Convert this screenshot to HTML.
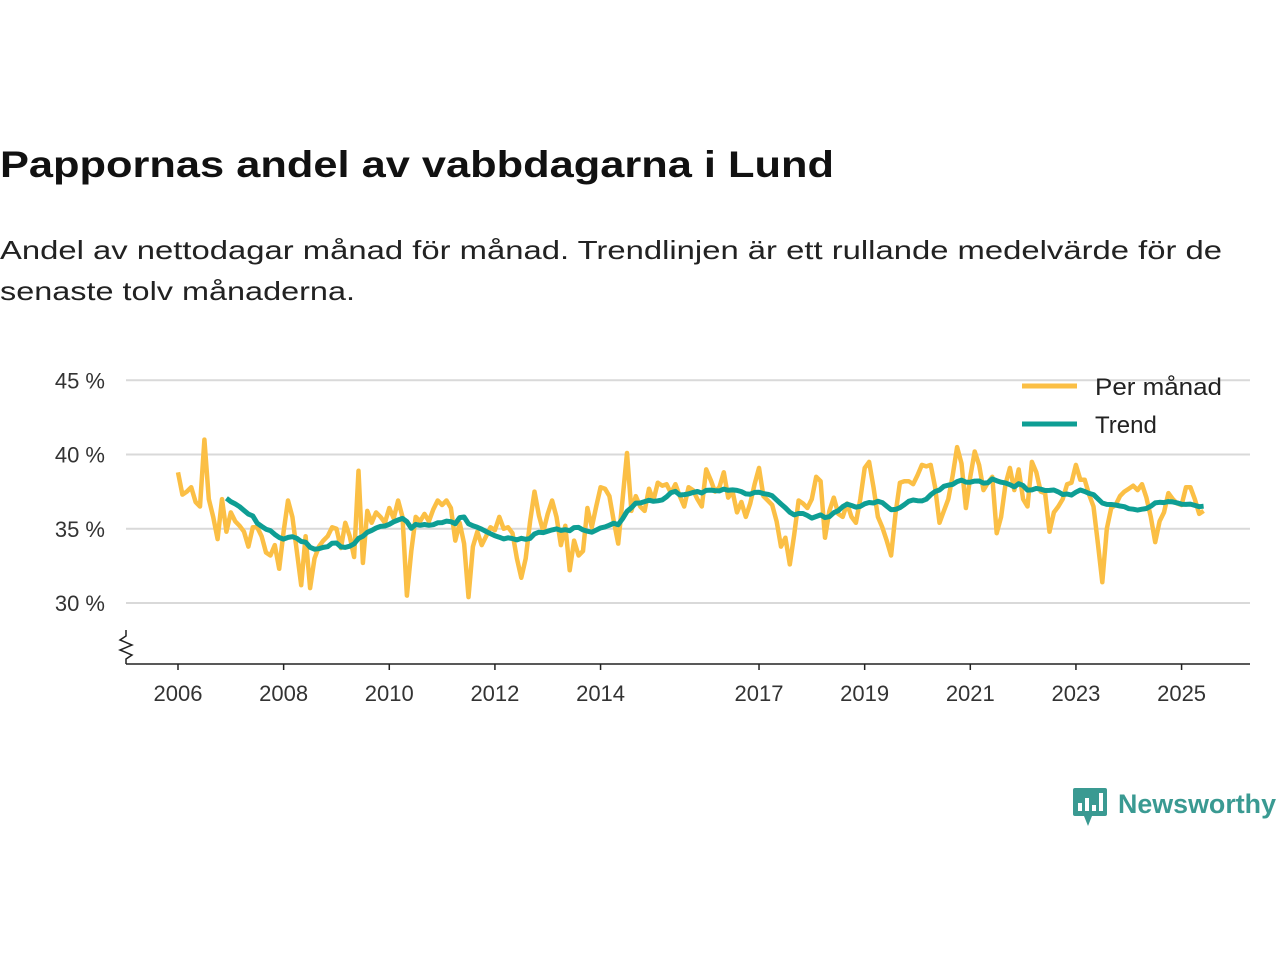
<!DOCTYPE html>
<html><head><meta charset="utf-8"><style>
body{margin:0;background:#fff;}
svg{display:block;font-family:"Liberation Sans",sans-serif;}
</style></head><body>
<svg id="chart" width="1280" height="960" viewBox="0 0 1280 960">
<text x="0" y="177" font-size="37" font-weight="bold" fill="#111" textLength="834" lengthAdjust="spacingAndGlyphs">Pappornas andel av vabbdagarna i Lund</text>
<text x="0" y="259" font-size="26" fill="#222" textLength="1222" lengthAdjust="spacingAndGlyphs">Andel av nettodagar månad för månad. Trendlinjen är ett rullande medelvärde för de</text>
<text x="0" y="300" font-size="26" fill="#222" textLength="355" lengthAdjust="spacingAndGlyphs">senaste tolv månaderna.</text>
<g id="grid"></g>
<g id="marks"></g>
<g>
<line x1="1022" y1="386" x2="1077" y2="386" stroke="#fbbf45" stroke-width="5"/>
<text x="1095" y="395" font-size="24" fill="#222" textLength="127" lengthAdjust="spacingAndGlyphs">Per månad</text>
<line x1="1022" y1="424" x2="1077" y2="424" stroke="#0e9e94" stroke-width="5"/>
<text x="1095" y="433" font-size="24" fill="#222">Trend</text>
</g>
<g>
<rect x="1073" y="788" width="34" height="28" rx="2" fill="#3a9a92"/>
<polygon points="1084,816 1092,816 1088,826" fill="#3a9a92"/>
<rect x="1078" y="803" width="4" height="8" fill="#fff"/><rect x="1085" y="798" width="4" height="13" fill="#fff"/><rect x="1092" y="805" width="4" height="6" fill="#fff"/><rect x="1099" y="793" width="4" height="18" fill="#fff"/>
<text x="1118" y="813" font-size="27" font-weight="bold" fill="#3a9a92" textLength="158" lengthAdjust="spacingAndGlyphs">Newsworthy</text>
</g>
</svg>
<script>
const startYear = 2006;
const monthly = [
38.8,37.3,37.5,37.8,36.8,36.5,41.0,37.0,35.8,34.3,37.0,34.8,
36.1,35.5,35.2,34.8,33.8,35.1,35.1,34.5,33.4,33.2,33.9,32.3,
34.8,36.9,35.8,33.5,31.2,34.5,31.0,33.0,33.8,34.2,34.5,35.1,
35.0,33.7,35.4,34.5,33.1,38.9,32.7,36.2,35.4,36.1,35.8,35.4,
36.4,35.7,36.9,35.8,30.5,33.5,35.8,35.5,36.0,35.5,36.3,36.9,
36.6,36.9,36.4,34.2,35.4,34.0,30.4,33.8,34.8,33.9,34.5,35.1,
34.9,35.8,35.0,35.1,34.7,33.0,31.7,33.0,35.5,37.5,35.9,34.8,
36.0,36.9,35.8,33.9,35.2,32.2,34.2,33.2,33.5,36.4,35.1,36.5,
37.8,37.7,37.2,35.5,34.0,37.0,40.1,36.2,37.2,36.5,36.2,37.7,
36.9,38.1,37.9,38.0,37.4,38.0,37.2,36.5,37.8,37.6,37.0,36.5,
39.0,38.3,37.5,37.8,38.8,37.1,37.5,36.1,36.8,35.8,36.7,38.0,
39.1,37.2,36.9,36.6,35.5,33.8,34.4,32.6,34.6,36.9,36.7,36.4,
37.0,38.5,38.2,34.4,36.2,37.1,36.0,35.8,36.7,35.8,35.4,37.0,
39.1,39.5,37.8,35.8,35.1,34.2,33.2,36.0,38.1,38.2,38.2,38.0,
38.6,39.3,39.2,39.3,37.8,35.4,36.2,37.0,38.6,40.5,39.4,36.4,
38.5,40.2,39.3,37.6,38.1,38.5,34.7,35.8,38.0,39.1,37.6,39.0,
37.0,36.5,39.5,38.8,37.5,37.4,34.8,36.1,36.5,37.0,38.0,38.1,
39.3,38.3,38.3,37.3,36.5,34.0,31.4,35.0,36.4,36.6,37.2,37.5,
37.7,37.9,37.6,38.0,37.1,35.8,34.1,35.5,36.1,37.4,37.0,36.7,
36.6,37.8,37.8,37.0,36.0,36.2
];
const yTicks = [30,35,40,45];
const xTickYears = [2006,2008,2010,2012,2014,2017,2019,2021,2023,2025];

const NS='http://www.w3.org/2000/svg';
const xOf = t => 178 + (t - startYear) * 52.82;
const yOf = v => 603 - (v - 30) * 14.85;
function mk(tag, attrs, parent){const e=document.createElementNS(NS,tag);for(const k in attrs)e.setAttribute(k,attrs[k]);parent.appendChild(e);return e;}
const grid=document.getElementById('grid'), marks=document.getElementById('marks');

yTicks.forEach(v=>{
  const l=mk('line',{x1:126,x2:1250,y1:yOf(v),y2:yOf(v),stroke:'#d9d9d9','stroke-width':2},grid);
  
  
  const t=mk('text',{x:105,y:yOf(v)+8,'text-anchor':'end','font-size':22,fill:'#333'},grid);
  t.textContent=v+' %';
  
  
});
const ax=mk('line',{x1:126,x2:1250,y1:664,y2:664,stroke:'#222','stroke-width':1.5},grid);


const zz=mk('polyline',{points:'126,630 126,636 120,640 132,645 120,650 132,655 126,659 126,664',fill:'none',stroke:'#222','stroke-width':1.5},grid);


xTickYears.forEach(yr=>{
  const x=xOf(yr);
  const tk=mk('line',{x1:x,x2:x,y1:664,y2:670,stroke:'#222','stroke-width':1.5},grid);
  
  
  const t=mk('text',{x:x,y:701,'text-anchor':'middle','font-size':22,fill:'#333'},grid);
  t.textContent=yr;
  
  
});

const pts=monthly.map((v,i)=>xOf(startYear+i/12).toFixed(1)+','+yOf(v).toFixed(1)).join(' ');
const pm=mk('polyline',{points:pts,fill:'none',stroke:'#fbbf45','stroke-width':4.5,'stroke-linejoin':'round'},marks);



const tp=[];
for(let i=11;i<monthly.length;i++){
  let s=0;for(let j=i-11;j<=i;j++)s+=monthly[j];
  tp.push(xOf(startYear+i/12).toFixed(1)+','+yOf(s/12).toFixed(1));
}
const tr=mk('polyline',{points:tp.join(' '),fill:'none',stroke:'#0e9e94','stroke-width':5,'stroke-linejoin':'round'},marks);


</script>
</body></html>
